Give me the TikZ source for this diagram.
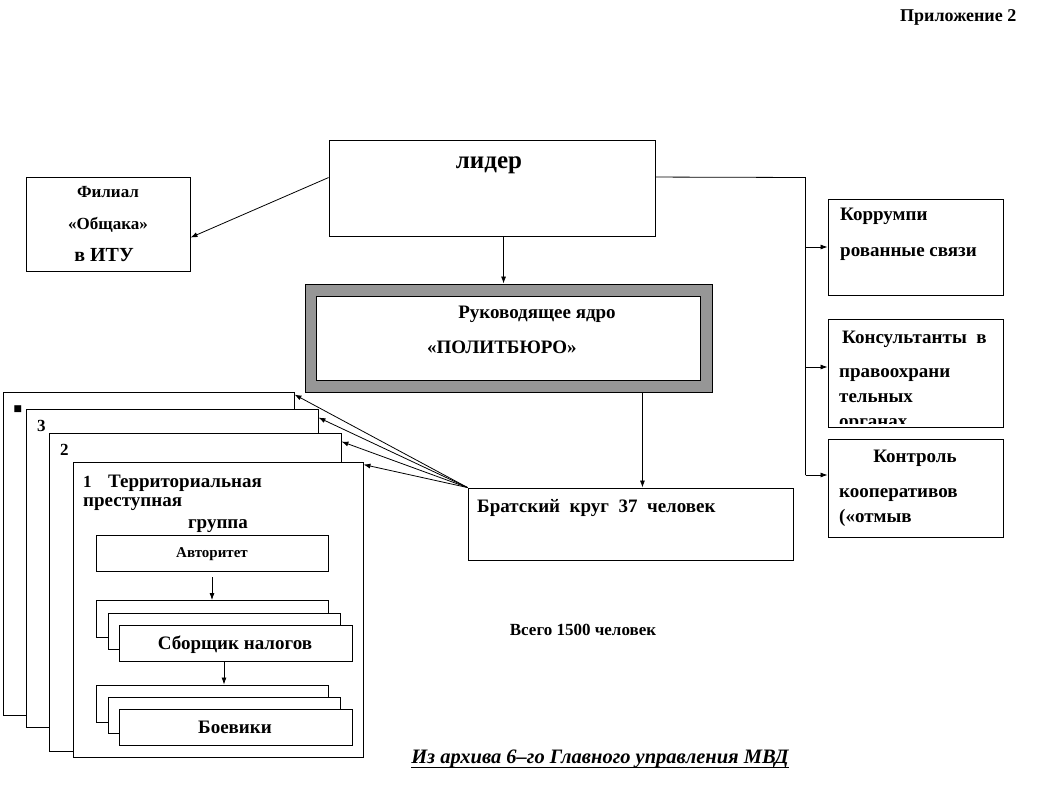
\documentclass[tikz,border=0pt]{standalone}
\usepackage{fontspec}
\setmainfont{Liberation Serif}
\newfontfamily\djv{DejaVu Sans}
\usetikzlibrary{arrows.meta,calc}
\newcommand\fsz[1]{\fontsize{#1}{#1}\selectfont}
\begin{document}
\begin{tikzpicture}[x=1pt,y=-1pt,
  box/.style={draw,line width=0.9pt,fill=white,rectangle,inner sep=0pt},
  lbl/.style={inner sep=0pt,font=\bfseries\fsz{19}},
  arr/.style={line width=0.8pt,-{Latex[length=7pt,width=5pt]}},
  ln/.style={line width=0.8pt}]
\useasboundingbox (0,0) rectangle (1051,791);
% title
\node[lbl,anchor=base west,font=\bfseries\fsz{18}] (app) at (900,22) {Приложение 2};
% leader
\node[box,minimum width=326pt,minimum height=96pt] (lider) at (492,188) {};
\node[lbl,anchor=base,font=\bfseries\fsz{25}] (ltxt) at (489,169) {лидер};
% filial
\node[box,minimum width=164pt,minimum height=94pt] (fil) at (108,224) {};
\node[lbl,anchor=base,font=\bfseries\fsz{17}] (f1) at (108,198) {Филиал};
\node[lbl,anchor=base,font=\bfseries\fsz{17}] (f2) at (108,230) {«Общака»};
\node[lbl,anchor=base,font=\bfseries\fsz{20}] (f3) at (104,262) {в ИТУ};
% politburo
\node[box,fill={rgb,255:red,150;green,150;blue,150},minimum width=407pt,minimum height=108pt] (polo) at (508.5,338) {};
\node[box,minimum width=384pt,minimum height=84pt] (poli) at (508.5,338) {};
\node[lbl,anchor=base] (p1) at (537,318) {Руководящее ядро};
\node[lbl,anchor=base west] (p2) at (427,353) {«ПОЛИТБЮРО»};
% bratsky
\node[box,minimum width=325pt,minimum height=72pt] (brat) at (630.5,524) {};
\node[lbl,anchor=base west] (b1) at (477,512) {Братский\ \ круг\ \ 37\ \ человек};
% right boxes
\node[box,minimum width=175pt,minimum height=96pt] (korr) at (915.5,247) {};
\node[lbl,anchor=base west] (k1) at (840,221) {Коррумпи};
\node[lbl,anchor=base west] (k2) at (840,257) {рованные связи};
\node[box,minimum width=175pt,minimum height=108pt] (kons) at (915.5,373) {};
\begin{scope}
\clip (829,320) rectangle (1002,423);
\node[lbl,anchor=base west] (c1) at (842,343) {Консультанты\ \ в};
\node[lbl,anchor=base west] (c2) at (839,377) {правоохрани};
\node[lbl,anchor=base west] (c3) at (839,402) {тельных};
\node[lbl,anchor=base west] (c4) at (839,427) {органах};
\end{scope}
\node[box,minimum width=175pt,minimum height=98pt] (kontr) at (915.5,488) {};
\node[lbl,anchor=base] (t1) at (915,462) {Контроль};
\node[lbl,anchor=base west] (t2) at (839,497) {кооперативов};
\node[lbl,anchor=base west] (t3) at (839,522) {(«отмыв};
% connectors from leader
\coordinate (lr) at ($(lider.north east)+(0,37.5)$);
\coordinate (bus) at (805.5,177.5);
\coordinate (busend) at (805.5,475);
\draw[ln] (lr) -- (bus) -- (busend);
\draw[arr] (bus |- korr.west) -- (korr.west);
\coordinate (kA) at ($(kons.west)+(0,-6)$);
\draw[arr] (bus |- kA) -- (kA);
\coordinate (tA) at ($(kontr.west)+(0,-13)$);
\draw[arr] (busend) -- (tA);
\draw[arr] ($(lider.north west)+(0,38)$) -- ($(fil.north east)+(0,61)$);
\coordinate (ld) at ($(lider.south west)+(175,0)$);
\draw[arr] (ld) -- (ld |- polo.north);
\coordinate (pb) at ($(polo.south east)+(-70,0)$);
\draw[arr] (pb) -- (pb |- brat.north);
% cards
\node[box,minimum width=291pt,minimum height=323pt] (cn) at (148.5,553.5) {};
\node[inner sep=0pt,anchor=center,font=\djv\fsz{9}] (cnl) at (18,409) {■};
\node[box,minimum width=292pt,minimum height=318pt] (c3) at (172,568) {};
\node[lbl,anchor=base west,font=\bfseries\fsz{17}] (c3l) at (37,431) {3};
\node[box,minimum width=292pt,minimum height=318pt] (c2) at (195,592) {};
\node[lbl,anchor=base west,font=\bfseries\fsz{17}] (c2l) at (60,455) {2};
\node[box,minimum width=290pt,minimum height=295pt] (c1) at (218,609.5) {};
\node[lbl,anchor=base west,font=\bfseries\fsz{17}] (c1l) at (83,487) {1};
\node[lbl,anchor=base west] (g1) at (108,487) {Территориальная};
\node[lbl,anchor=base west] (g2) at (83,506) {преступная};
\node[lbl,anchor=base] (g3) at (218,528) {группа};
% avtoritet
\node[box,minimum width=232pt,minimum height=36pt] (avt) at (212,553) {};
\node[lbl,anchor=base,font=\bfseries\fsz{15}] (avtl) at (212,557) {Авторитет};
% sborshik stack
\node[box,minimum width=232pt,minimum height=37pt] (sbA) at (212,619) {};
\node[box,minimum width=232pt,minimum height=36pt] (sbB) at (224,631) {};
\node[box,minimum width=233pt,minimum height=36pt] (sbC) at (235.5,643.5) {};
\node[lbl,anchor=base] (sbl) at (235,649) {Сборщик налогов};
% boeviki stack
\node[box,minimum width=232pt,minimum height=37pt] (bvA) at (212,703.5) {};
\node[box,minimum width=232pt,minimum height=36pt] (bvB) at (224,715) {};
\node[box,minimum width=233pt,minimum height=36pt] (bvC) at (235.5,727) {};
\node[lbl,anchor=base] (bvl) at (235,733) {Боевики};
% inner arrows
\draw[arr] ($(avt.south)+(0,6)$) -- (sbA.north);
\draw[arr] (sbB.south |- sbC.south) -- (sbB.south |- bvA.north);
% arrows from bratsky to cards
\draw[arr] (brat.north west) -- ($(cn.north east)+(0,3)$);
\draw[arr] (brat.north west) -- ($(c3.north east)+(0,9)$);
\draw[arr] (brat.north west) -- ($(c2.north east)+(0,9)$);
\draw[arr] (brat.north west) -- ($(c1.north east)+(0,3)$);
% footer texts
\node[lbl,anchor=base,font=\bfseries\fsz{17}] (vsego) at (583,635) {Всего 1500 человек};
\node[lbl,anchor=base,font=\bfseries\itshape\fsz{20.5}] (arch) at (600,763) {Из архива 6–го Главного управления МВД};
\draw[line width=1pt] ($(arch.base west)+(0,4)$) -- ($(arch.base east)+(0,4)$);
\end{tikzpicture}
\end{document}
